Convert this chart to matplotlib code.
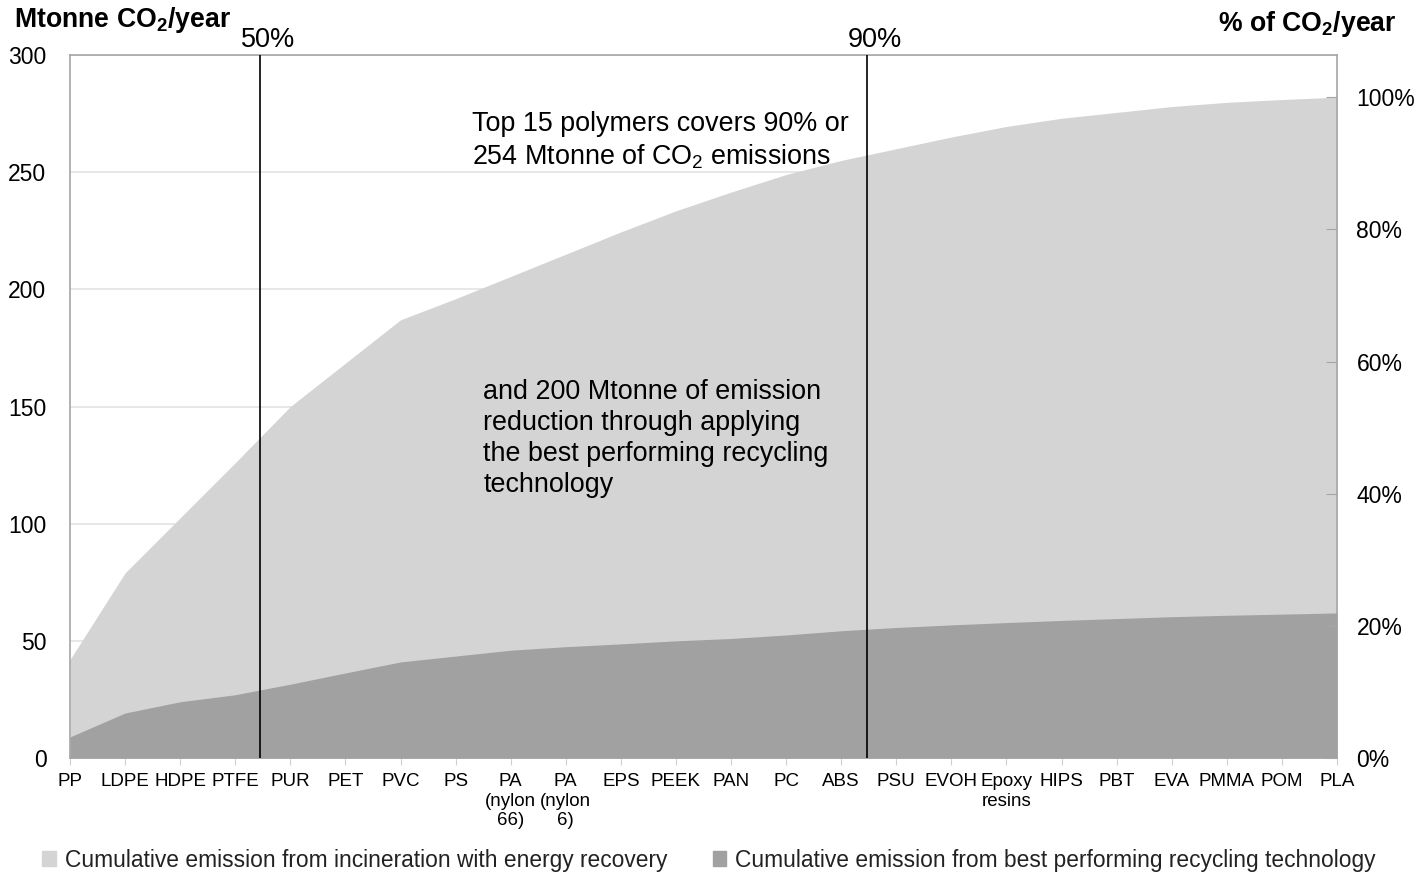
import matplotlib
matplotlib.use("Agg")
import matplotlib.pyplot as plt
from matplotlib.patches import Patch

plt.rcParams['font.family'] = ['Liberation Sans', 'DejaVu Sans']
plt.rcParams['mathtext.default'] = 'regular'

# polymers ordered by contribution
polymers = ['PP', 'LDPE', 'HDPE', 'PTFE', 'PUR', 'PET', 'PVC', 'PS',
            'PA\n(nylon\n66)', 'PA\n(nylon\n6)', 'EPS', 'PEEK', 'PAN', 'PC',
            'ABS', 'PSU', 'EVOH', 'Epoxy\nresins', 'HIPS', 'PBT', 'EVA',
            'PMMA', 'POM', 'PLA']

# cumulative Mtonne CO2/year
incineration = [42, 79, 102.5, 126, 150, 168.5, 187, 196, 205.5, 215, 224.5,
                233.5, 241.5, 249, 255, 260, 265, 269.5, 273, 275.5, 278,
                279.8, 281, 282]
recycling = [9, 19.2, 24, 27, 31.5, 36.3, 41, 43.5, 46, 47.5, 48.7, 50, 51,
             52.5, 54.3, 55.7, 56.8, 57.8, 58.7, 59.5, 60.3, 60.9, 61.4, 61.9]

total = 282.0  # = 100 %
cut_pos = [3.45, 14.46]
cut_labels = ['50%', '90%']

light = '#d4d4d4'
dark = '#a1a1a1'
frame = '#a6a6a6'

fig = plt.figure(figsize=(14.18, 8.75), dpi=100)
ax = fig.add_axes([70 / 1418, 117 / 875, 1267 / 1418, 703 / 875])

x = list(range(len(polymers)))
ax.fill_between(x, 0, incineration, color=light, lw=0, zorder=2)
ax.fill_between(x, 0, recycling, color=dark, lw=0, zorder=3)

ax.set_xlim(0, len(polymers) - 1)
ax.set_ylim(0, 300)
ax.set_yticks(range(0, 301, 50))
ax.grid(axis='y', color='#e3e3e3', lw=1.2, zorder=1)
ax.set_axisbelow(True)
ax.tick_params(axis='y', length=0, labelsize=16.5, pad=17)
ax.set_xticks(x)
ax.set_xticklabels(polymers, fontsize=13.5, linespacing=1.2)
ax.tick_params(axis='x', length=5, color='#d0d0d0', pad=6)
for s in ax.spines.values():
    s.set_color(frame)
    s.set_linewidth(1.2)

for p, lab in zip(cut_pos, cut_labels):
    ax.axvline(p, color='black', lw=1.2, zorder=4)
    ax.text(p + 0.15, 1.003, lab, transform=ax.get_xaxis_transform(),
            ha='center', va='bottom', fontsize=19.5)

ax2 = ax.twinx()
ax2.set_ylim(0, 300 / total * 100)
ax2.set_yticks(range(0, 101, 20))
ax2.set_yticklabels([f'{v}%' for v in range(0, 101, 20)])
ax2.tick_params(axis='y', direction='in', length=8, color=frame,
                labelsize=16.5, pad=14)
for s in ax2.spines.values():
    s.set_visible(False)

fig.text(14 / 1418, 1 - 20 / 875, 'Mtonne CO$_2$/year', fontsize=19.2,
         fontweight='bold', ha='left', va='center')
fig.text(1397 / 1418, 1 - 24 / 875, '% of CO$_2$/year', fontsize=19.2,
         fontweight='bold', ha='right', va='center')

ax.text(7.3, 263.3, 'Top 15 polymers covers 90% or\n254 Mtonne of CO$_2$ emissions',
        fontsize=19.4, ha='left', va='center', linespacing=1.25, zorder=5)
ax.text(7.5, 136.2, 'and 200 Mtonne of emission\nreduction through applying\n'
        'the best performing recycling\ntechnology',
        fontsize=19.4, ha='left', va='center', linespacing=1.25, zorder=5)

handles = [Patch(color=light, label='Cumulative emission from incineration with energy recovery'),
           Patch(color=dark, label='Cumulative emission from best performing recycling technology')]
fig.legend(handles=handles, loc='center', bbox_to_anchor=(0.5, 1 - 860 / 875),
           ncol=2, frameon=False, fontsize=16.4, handlelength=0.6,
           handleheight=0.6, handletextpad=0.4, columnspacing=2.0,
           labelcolor='#222222')

fig.savefig('out.png', dpi=100)
